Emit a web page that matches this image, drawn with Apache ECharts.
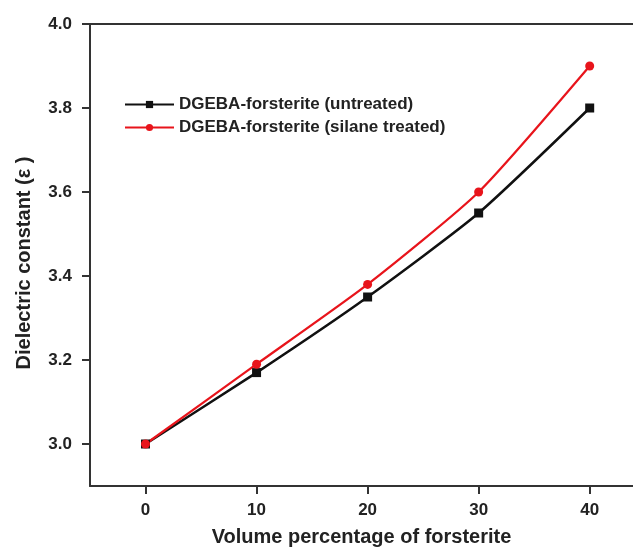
<!DOCTYPE html>
<html>
<head>
<meta charset="utf-8">
<script src="https://cdn.jsdelivr.net/npm/echarts@6/dist/echarts.min.js"></script>
<style>html,body{margin:0;padding:0;background:#fff}#c{width:633px;height:552px}</style>
</head>
<body>
<div id="c"></div>
<script>
var volume = [0, 10, 20, 30, 40];
var untreated = [3.00, 3.17, 3.35, 3.55, 3.80];
var silane = [3.00, 3.19, 3.38, 3.60, 3.90];
var xTicks = [0, 10, 20, 30, 40];
var yTicks = [3.0, 3.2, 3.4, 3.6, 3.8, 4.0];
var seriesNames = ['DGEBA-forsterite (untreated)', 'DGEBA-forsterite (silane treated)'];

function pairs(xs, ys) { return xs.map(function (x, i) { return [x, ys[i]]; }); }

var font = '"Liberation Sans", Arial, sans-serif';
var chart = echarts.init(document.getElementById('c'), null, { renderer: 'canvas' });
chart.setOption({
  animation: false,
  backgroundColor: '#fff',
  textStyle: { fontFamily: font },
  grid: { left: 90, top: 24, right: 0, bottom: 61, containLabel: false },
  legend: {
    orient: 'vertical', left: 119, top: 91, itemWidth: 49, itemHeight: 9, itemGap: 6,
    textStyle: { fontFamily: font, fontWeight: 'bold', fontSize: 17, color: '#222' },
    data: seriesNames
  },
  xAxis: [{
    type: 'value', min: -5, max: 43.9,
    name: 'Volume percentage of forsterite', nameLocation: 'middle', nameGap: 41,
    nameTextStyle: { fontFamily: font, fontWeight: 'bold', fontSize: 20, color: '#222' },
    axisLine: { onZero: false, lineStyle: { color: '#333', width: 2 } },
    axisTick: { show: true, length: 8, customValues: xTicks, lineStyle: { color: '#333', width: 2 } },
    axisLabel: { customValues: xTicks, margin: 16, fontFamily: font, fontWeight: 'bold', fontSize: 17, color: '#222' },
    splitLine: { show: false }
  }, {
    type: 'value', min: -5, max: 43.9, position: 'top',
    axisLine: { show: true, onZero: false, lineStyle: { color: '#333', width: 2 } },
    axisTick: { show: false }, axisLabel: { show: false }, splitLine: { show: false }
  }],
  yAxis: {
    type: 'value', min: 2.9, max: 4.0,
    name: 'Dielectric constant (\u03b5 )', nameLocation: 'middle', nameGap: 56, nameRotate: 90,
    nameTextStyle: { fontFamily: font, fontWeight: 'bold', fontSize: 20, color: '#222', padding: [0, 16, 0, 0] },
    axisLine: { show: true, onZero: false, lineStyle: { color: '#333', width: 2 } },
    axisTick: { show: true, length: 8, customValues: yTicks, lineStyle: { color: '#333', width: 2 } },
    axisLabel: { customValues: yTicks, margin: 18, fontFamily: font, fontWeight: 'bold', fontSize: 17, color: '#222',
      formatter: function (v) { return v.toFixed(1); } },
    splitLine: { show: false }
  },
  series: [
    {
      name: seriesNames[0], type: 'line', data: pairs(volume, untreated), smooth: 0.2,
      symbol: 'rect', symbolSize: 9, color: '#111',
      lineStyle: { color: '#111', width: 2.5 }, itemStyle: { color: '#111' }
    },
    {
      name: seriesNames[1], type: 'line', data: pairs(volume, silane), smooth: 0.2,
      symbol: 'circle', symbolSize: 9, color: '#e8141b',
      lineStyle: { color: '#e8141b', width: 2.2 }, itemStyle: { color: '#e8141b' }
    }
  ]
});
</script>
</body>
</html>
